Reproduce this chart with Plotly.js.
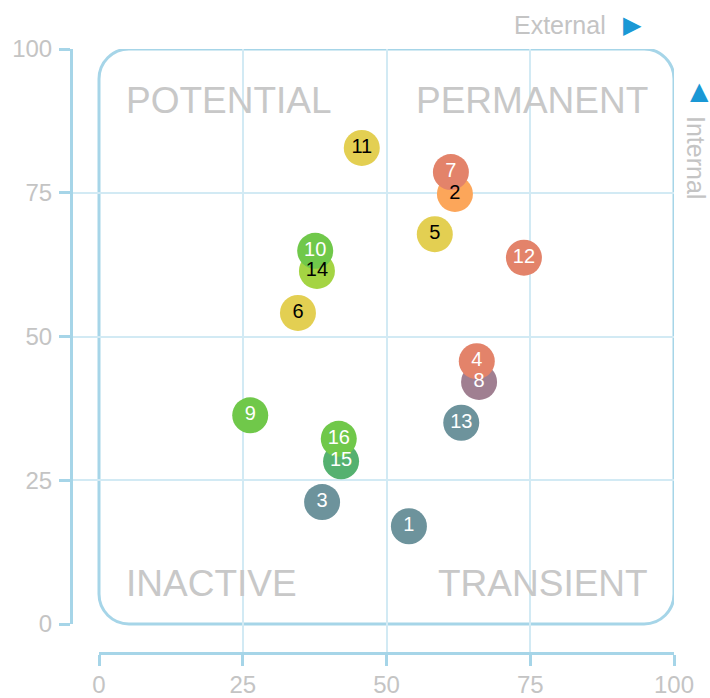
<!DOCTYPE html>
<html><head><meta charset="utf-8">
<script src="https://cdn.plot.ly/plotly-3.0.1.min.js"></script>
<style>html,body{margin:0;padding:0;background:#fff;} #chart{width:710px;height:698px;}</style>
</head><body><div id="chart"></div>
<script>
// Data (listed in drawing order so overlapping markers stack as in the reference)
const ids    = ['1','2','3','5','6','7','8','4','9','11','12','13','14','10','15','16'];
const xVals  = [53.9,61.9,38.8,58.4,34.6,61.2,66.1,65.7,26.3,45.7,73.9,63.0,37.9,37.6,42.1,41.7];
const yVals  = [17.0,74.8,21.2,67.8,54.1,78.6,42.1,45.7,36.3,82.8,63.7,35.0,61.4,64.9,28.3,32.2];
const groups = ['slate','orange','slate','yellow','yellow','salmon','mauve','salmon','green','yellow','salmon','slate','lime','green','sea','green'];
const tickVals = [0,25,50,75,100];
const gridVals = [25,50,75];
const quadrantLabels = ['POTENTIAL','PERMANENT','INACTIVE','TRANSIENT'];
const xAxisLabel = 'External';
const yAxisLabel = 'Internal';

// Styles
const groupColor = {slate:'#6d939c', orange:'#fca65a', salmon:'#e3836a', yellow:'#e3cf52',
                    mauve:'#a07f91', green:'#70c84a', lime:'#a4d443', sea:'#55b170'};
const groupText  = {slate:'#ffffff', orange:'#000000', salmon:'#ffffff', yellow:'#000000',
                    mauve:'#ffffff', green:'#ffffff', lime:'#000000', sea:'#ffffff'};
const axisBlue = '#a6d5e8', gridBlue = '#d2eaf4', gray = '#c4c4c4', arrowBlue = '#1a98d5';
const FONT = 'Liberation Sans, Arial, sans-serif';

const traces = [
  {
    type:'scatter', mode:'markers+text', x:xVals, y:yVals, text:ids,
    textposition:'middle center',
    textfont:{family:FONT, size:20, color:groups.map(g=>groupText[g])},
    marker:{size:36, color:groups.map(g=>groupColor[g]), line:{width:0}, opacity:1},
    hoverinfo:'text', showlegend:false, cliponaxis:false
  },
  {type:'scatter', mode:'markers', x:[null], y:[null], xaxis:'x2', yaxis:'y2', hoverinfo:'skip', showlegend:false}
];

// rounded rectangle around the data area
const r = 5.2, k = 0.5523*r;
const rectPath = `M ${r},0 L ${100-r},0 C ${100-r+k},0 100,${r-k} 100,${r} L 100,${100-r} C 100,${100-r+k} ${100-r+k},100 ${100-r},100 ` +
  `L ${r},100 C ${r-k},100 0,${100-r+k} 0,${100-r} L 0,${r} C 0,${r-k} ${r-k},0 ${r},0 Z`;

const qPos = [[4.4,91,'left'],[95.9,91,'right'],[4.4,7,'left'],[95.9,7,'right']];
const annotations = quadrantLabels.map((t,i)=>({
  text:t, xref:'x', yref:'y', x:qPos[i][0], y:qPos[i][1], xanchor:qPos[i][2], yanchor:'middle',
  showarrow:false, font:{family:FONT, size:37, color:'#c8c8c8'}
}));
annotations.push(
  {text:xAxisLabel, xref:'paper', yref:'paper', x:0.8905, y:1.0397, xanchor:'right', yanchor:'middle', showarrow:false,
   font:{family:FONT, size:25, color:gray}},
  {text:'▶', xref:'paper', yref:'paper', x:0.932, y:1.0397, xanchor:'center', yanchor:'middle', showarrow:false,
   font:{family:'DejaVu Sans', size:24, color:arrowBlue}},
  {text:'▲', xref:'paper', yref:'paper', x:1.0415, y:0.9305, xanchor:'center', yanchor:'middle', showarrow:false,
   font:{family:'DejaVu Sans', size:24, color:arrowBlue}},
  {text:yAxisLabel, xref:'paper', yref:'paper', x:1.0365, y:0.8212, xanchor:'center', yanchor:'middle', showarrow:false,
   textangle:90, font:{family:FONT, size:25, color:gray}}
);

const outerAxis = {
  anchor:'free', position:0, range:[0,100], tickmode:'array', tickvals:tickVals,
  ticks:'outside', ticklen:11, tickwidth:3, tickcolor:axisBlue,
  showline:true, linecolor:axisBlue, linewidth:3, showgrid:false, zeroline:false,
  tickfont:{family:FONT, size:24, color:gray}, fixedrange:true
};

const layout = {
  width:710, height:698,
  margin:{l:71, r:36, t:49, b:45, pad:0},
  paper_bgcolor:'#ffffff', plot_bgcolor:'rgba(0,0,0,0)',
  // grid axes span the full paper so grid lines reach the offset axis lines
  xaxis:{domain:[0,1], range:[-28/5.75,100], tickmode:'array', tickvals:gridVals, showticklabels:false,
         showgrid:true, gridcolor:gridBlue, gridwidth:2, zeroline:false, showline:false, ticks:'', fixedrange:true},
  yaxis:{domain:[0,1], range:[-29/5.75,100], tickmode:'array', tickvals:gridVals, showticklabels:false,
         showgrid:true, gridcolor:gridBlue, gridwidth:2, zeroline:false, showline:false, ticks:'', fixedrange:true},
  xaxis2:Object.assign({}, outerAxis, {domain:[28/603,1], ticklabelstandoff:-2}),
  yaxis2:Object.assign({}, outerAxis, {domain:[29/604,1], ticklabelstandoff:2}),
  shapes:[{type:'path', xref:'x', yref:'y', path:rectPath, line:{color:axisBlue, width:3}, fillcolor:'rgba(0,0,0,0)', layer:'below'}],
  annotations:annotations,
  showlegend:false
};

Plotly.newPlot('chart', traces, layout, {displayModeBar:false, staticPlot:true});
</script></body></html>
